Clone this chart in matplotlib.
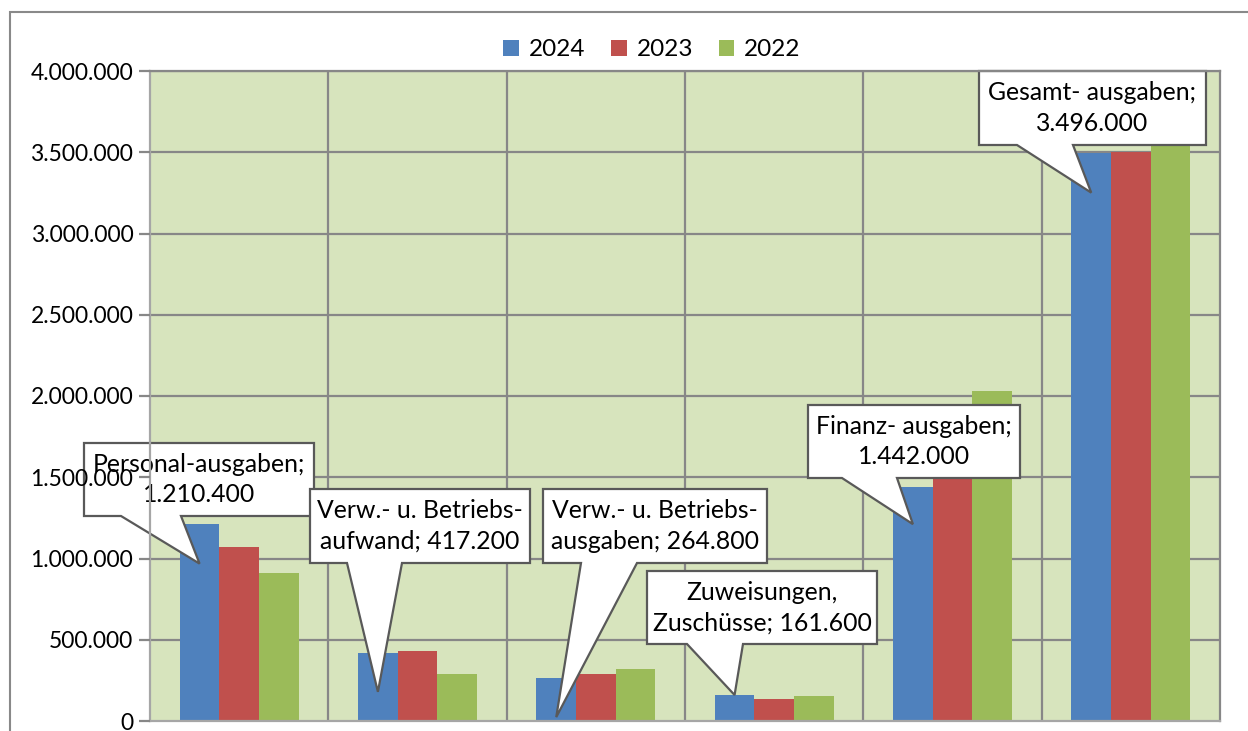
import numpy as np
import matplotlib
matplotlib.use("Agg")
from matplotlib import pyplot as plt
from matplotlib.patches import Polygon, Rectangle
from matplotlib.transforms import IdentityTransform

plt.rcParams['font.family'] = ['Lato', 'DejaVu Sans']

# Data
categories = ["Personalausgaben", "Verw.- u. Betriebsaufwand", "Verw.- u. Betriebsausgaben",
              "Zuweisungen, Zuschüsse", "Finanzausgaben", "Gesamtausgaben"]
years = ["2024", "2023", "2022"]
values_2024 = [1210400, 417200, 264800, 161600, 1442000, 3496000]
values_2023 = [1072000, 433000, 289000, 134000, 1500000, 3500000]
values_2022 = [909000, 287000, 322000, 154000, 2031000, 3600000]
colors = ["#4F81BD", "#C0504D", "#9BBB59"]

callout_texts = ["Personal-ausgaben;\n1.210.400",
                 "Verw.- u. Betriebs-\naufwand; 417.200",
                 "Verw.- u. Betriebs-\nausgaben; 264.800",
                 "Zuweisungen,\nZuschüsse; 161.600",
                 "Finanz- ausgaben;\n1.442.000",
                 "Gesamt- ausgaben;\n3.496.000"]

W, H = 1248, 731
fig = plt.figure(figsize=(W / 100, H / 100), dpi=100)

# plot area in pixels (left, top, right, bottom)
pl, pt, pr, pb = 150, 71, 1220, 721
ax = fig.add_axes([pl / W, (H - pb) / H, (pr - pl) / W, (pb - pt) / H])
ax.set_facecolor("#D7E4BD")

x = np.arange(len(categories))
bw = 0.222
series = [values_2024, values_2023, values_2022]
for k, (vals, col, lab) in enumerate(zip(series, colors, years)):
    ax.bar(x + (k - 1) * bw, vals, width=bw, color=col, label=lab, zorder=1)

ax.set_xlim(-0.5, len(categories) - 0.5)
ax.set_ylim(0, 4000000)
yt = np.arange(0, 4000001, 500000)
ax.set_yticks(yt)
ax.set_yticklabels([f"{v:,.0f}".replace(",", ".") for v in yt], fontsize=16.5)
ax.set_xticks([])
ax.yaxis.set_zorder(3)   # tick labels sit above the callout boxes

# gridlines behind bars
grid_col = "#878787"
for v in yt[1:]:
    ax.axhline(v, color=grid_col, lw=1.6, zorder=0.5)
for b in np.arange(0.5, len(categories) - 0.5, 1):
    ax.axvline(b, color=grid_col, lw=1.6, zorder=0.5)

for s in ["top", "right"]:
    ax.spines[s].set_color(grid_col)
    ax.spines[s].set_linewidth(1.6)
ax.spines["left"].set_color("#A6A6A6")
ax.spines["bottom"].set_color("#A6A6A6")
ax.spines["left"].set_linewidth(1.6)
ax.spines["bottom"].set_linewidth(1.6)
ax.tick_params(axis="y", direction="out", length=8, width=1.6, color=grid_col, pad=4)

leg = fig.legend(*ax.get_legend_handles_labels(), loc="center",
                 bbox_to_anchor=(652 / W, (H - 50) / H), ncol=3, frameon=False,
                 fontsize=17.5, handlelength=0.65, handleheight=0.65, handletextpad=0.4,
                 columnspacing=1.05)

# outer chart border
fig.patches.append(Rectangle((10 / W, -0.1), 1.2, (H - 12) / H + 0.1,
                             transform=fig.transFigure, fill=False,
                             edgecolor="#898989", lw=1.5))

# callouts: box (x0, y0, x1, y1) in pixels from top-left, wedge base x, tip as
# fraction of the 2024 bar height
boxes = [(84, 443, 314, 516), (310, 489, 530, 563), (543, 489, 767, 563),
         (647, 571, 877, 644), (808, 405, 1020, 478), (979, 71, 1206, 145)]
wedges = [(121, 181), (347, 402), (581, 637), (687, 743), (842, 897), (1017, 1073)]
tip_frac = [0.80, 0.43, 0.09, 0.99, 0.84, 0.93]

fig.canvas.draw()
for i in range(len(categories)):
    x0, y0, x1, y1 = boxes[i]
    bl, br = wedges[i]
    tx, ty = ax.transData.transform((x[i] - bw, values_2024[i] * tip_frac[i]))
    Y = lambda py: H - py
    verts = [(x0, Y(y0)), (x1, Y(y0)), (x1, Y(y1)), (br, Y(y1)), (tx, ty),
             (bl, Y(y1)), (x0, Y(y1))]
    poly = Polygon(verts, closed=True, facecolor="white", edgecolor="#595959",
                   lw=1.6, transform=IdentityTransform(), zorder=2, clip_on=False)
    ax.add_artist(poly)
    ax.text((x0 + x1) / 2, Y((y0 + y1) / 2), callout_texts[i], transform=IdentityTransform(),
            ha="center", va="center", fontsize=17.8, linespacing=1.38, zorder=2.1,
            clip_on=False)

fig.savefig("out.png", dpi=100)
